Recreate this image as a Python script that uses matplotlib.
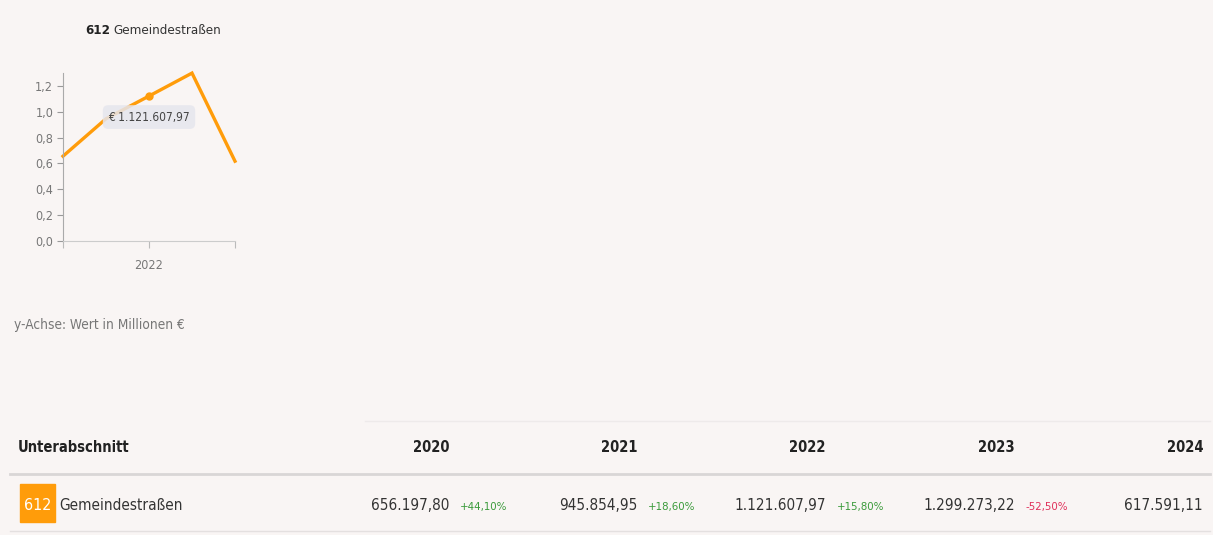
import os
import matplotlib.pyplot as plt
import matplotlib.font_manager as fm
from matplotlib.patches import Rectangle

# Gemeindestraßen (612), Werte in Euro
code = "612"
name = "Gemeindestraßen"
years = [2020, 2021, 2022, 2023, 2024]
values = [656197.80, 945854.95, 1121607.97, 1299273.22, 617591.11]
changes = ["+44,10%", "+18,60%", "+15,80%", "-52,50%"]
yticks = [0.0, 0.2, 0.4, 0.6, 0.8, 1.0, 1.2]
hover_year = 2022

W, H = 1213, 535
ORANGE = "#ff9c0a"
BG = "#f9f5f4"


def narrow_font(bold=False):
    # prefer a narrow sans face, fall back to the regular one
    regular = ["LiberationSansNarrow-Regular", "ArialNarrow", "NotoSans-ExtraCondensed",
               "NotoSans-Condensed", "DejaVuSansCondensed", "RobotoCondensed-Regular"]
    heavy = ["LiberationSansNarrow-Bold", "ArialNarrow-Bold", "NotoSans-ExtraCondensedBold",
             "NotoSans-CondensedBold", "DejaVuSansCondensed-Bold", "RobotoCondensed-Bold"]
    files = {os.path.splitext(os.path.basename(p))[0]: p for p in fm.findSystemFonts()}
    for key in (heavy if bold else regular):
        if key in files:
            return fm.FontProperties(fname=files[key])
    return fm.FontProperties(family=["Liberation Sans", "DejaVu Sans"],
                             weight="bold" if bold else "normal", stretch="condensed")


FR = narrow_font()
FB = narrow_font(bold=True)


def fmt_de(v):
    s = f"{v:,.2f}"
    return s.replace(",", "X").replace(".", ",").replace("X", ".")


def txt(axis, x, y, s, size, color="#333333", bold=False, **kw):
    fp = (FB if bold else FR).copy()
    fp.set_size(size)
    return axis.text(x, y, s, fontproperties=fp, color=color, va="center", **kw)


fig = plt.figure(figsize=(W / 100, H / 100), dpi=100, facecolor=BG)

# small line chart, positioned in pixels
left, right, top, bottom = 63, 235, 73, 241
ax = fig.add_axes([left / W, 1 - bottom / H, (right - left) / W, (bottom - top) / H])
ax.set_facecolor("none")
mio = [v / 1e6 for v in values]
ax.plot(years, mio, color=ORANGE, lw=2.4, solid_joinstyle="miter", clip_on=False)
hi = years.index(hover_year)
ax.plot(years[hi], mio[hi], "o", color=ORANGE, ms=5, clip_on=False)
ax.set_xlim(years[0], years[-1])
ax.set_ylim(0, 1.3)
ax.set_yticks(yticks)
ax.set_xticks([years[0], hover_year, years[-1]])
ax.set_yticklabels([f"{t:.1f}".replace(".", ",") for t in yticks])
ax.set_xticklabels(["", str(hover_year), ""])
tick_fp = FR.copy()
tick_fp.set_size(9)
for lab in ax.get_yticklabels() + ax.get_xticklabels():
    lab.set_fontproperties(tick_fp)
ax.tick_params(axis="y", colors="#999999", labelcolor="#777777", length=4, width=0.8, pad=3)
ax.tick_params(axis="x", colors="#bbbbbb", labelcolor="#777777", length=5, width=0.8, pad=8)
for s in ["top", "right"]:
    ax.spines[s].set_visible(False)
ax.spines["left"].set_color("#aaaaaa")
ax.spines["bottom"].set_color("#cccccc")

tip_fp = FR.copy()
tip_fp.set_size(8.6)
ax.annotate("€ " + fmt_de(values[hi]), xy=(years[hi], mio[hi]), xytext=(0, -21),
            textcoords="offset pixels", ha="center", va="center", fontproperties=tip_fp,
            color="#444444",
            bbox=dict(boxstyle="round,pad=0.45", fc="#e6e6ee", ec="none", alpha=0.85))

# overlay axes in pixel coordinates for texts and the table
ov = fig.add_axes([0, 0, 1, 1])
ov.set_xlim(0, W)
ov.set_ylim(H, 0)
ov.axis("off")
ov.set_facecolor("none")

t = txt(ov, 85, 30, code, 9.5, "#222222", bold=True, ha="left")
fig.canvas.draw()
bb = t.get_window_extent()
txt(ov, 85 + bb.width + 3, 30, name, 9.5, "#333333", ha="left")
txt(ov, 14, 325, "y-Achse: Wert in Millionen €", 9.8, "#777777", ha="left")

# table
col_right = [449, 637, 826, 1015, 1203]
ov.plot([365, 1210], [421, 421], color="#eeeaea", lw=1)
ov.plot([10, 1210], [474, 474], color="#d9d6d6", lw=2)
ov.plot([10, 1210], [531, 531], color="#e4e0e0", lw=1)
txt(ov, 18, 447, "Unterabschnitt", 10.5, "#222222", bold=True, ha="left")
for x, y in zip(col_right, years):
    txt(ov, x, 447, str(y), 10.5, "#222222", bold=True, ha="right")

ov.add_patch(Rectangle((20, 484), 35, 38, color=ORANGE))
txt(ov, 37.5, 506, code, 11.5, "white", ha="center")
txt(ov, 59, 506, name, 11, "#333333", ha="left")
for i, (x, v) in enumerate(zip(col_right, values)):
    txt(ov, x, 506, fmt_de(v), 11, "#333333", ha="right")
    if i < len(changes):
        c = changes[i]
        col = "#3a9a3a" if c.startswith("+") else "#e0305a"
        txt(ov, x + 11, 507, c, 8.2, col, ha="left")

fig.savefig("out.png", dpi=100, facecolor=BG)
